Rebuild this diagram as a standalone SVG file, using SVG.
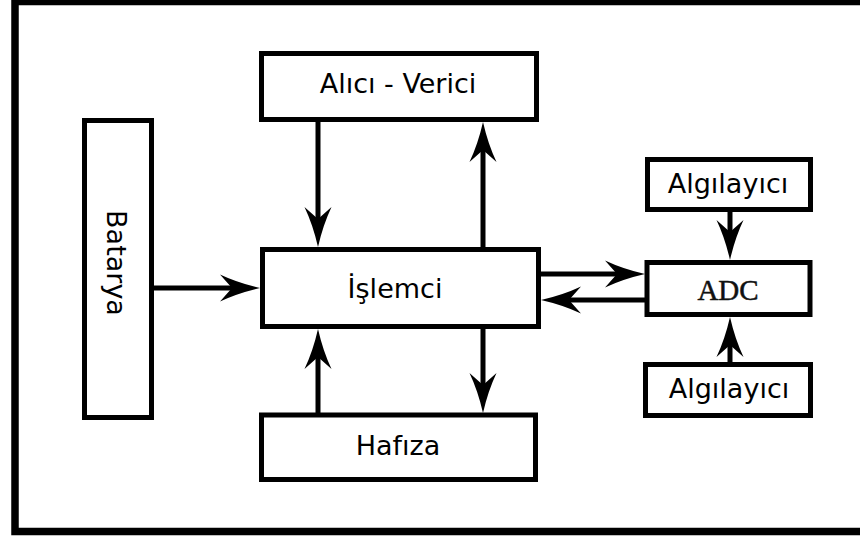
<svg xmlns="http://www.w3.org/2000/svg" width="860" height="537" viewBox="0 0 860 537">
<defs>
<style>
.box{fill:#fff;stroke:#000;stroke-width:5}
.lbl{font-family:"DejaVu Sans","Noto Sans",sans-serif;font-size:27px;fill:#000;text-anchor:middle}
.serif{font-family:"Liberation Serif","DejaVu Serif",serif;font-size:29px;fill:#111;stroke:#111;stroke-width:0.5;text-anchor:middle}
.wire{fill:none;stroke:#000;stroke-width:5;marker-end:url(#ah)}
</style>
<marker id="ah" markerUnits="userSpaceOnUse" viewBox="-42 -15 44 30" markerWidth="44" markerHeight="30" refX="-25" refY="0" orient="auto">
<path d="M0,0 Q-22,-5 -40,-13.5 L-28,0 L-40,13.5 Q-22,5 0,0 Z" fill="#000"/>
</marker>
</defs>
<rect width="860" height="537" fill="#fff"/>
<rect x="15" y="1.5" width="860" height="530" fill="none" stroke="#000" stroke-width="7.5"/>

<g id="connectors">
<path class="wire" d="M151.5,288 H235"/>
<path class="wire" d="M318,119.5 V222"/>
<path class="wire" d="M483,249.5 V147"/>
<path class="wire" d="M318,415 V354"/>
<path class="wire" d="M483,326.5 V388"/>
<path class="wire" d="M538.5,274 H620"/>
<path class="wire" d="M647,300 H566"/>
<path class="wire" d="M730,209.5 V235"/>
<path class="wire" d="M730,364.5 V342"/>
</g>

<g id="batarya">
<rect class="box" x="84.5" y="120.5" width="67" height="297"/>
<text class="lbl" transform="translate(107,263) rotate(90)">Batarya</text>
</g>
<g id="alici-verici">
<rect class="box" x="261.5" y="53.5" width="275" height="66"/>
<text class="lbl" x="398" y="93">Alıcı - Verici</text>
</g>
<g id="islemci">
<rect class="box" x="262.5" y="249.5" width="276" height="77"/>
<text class="lbl" x="395" y="298">İşlemci</text>
</g>
<g id="hafiza">
<rect class="box" x="261.5" y="415" width="274" height="64.5"/>
<text class="lbl" x="398" y="455">Hafıza</text>
</g>
<g id="algilayici-1">
<rect class="box" x="647.5" y="159.5" width="163" height="50"/>
<text class="lbl" x="728" y="193">Algılayıcı</text>
</g>
<g id="adc">
<rect class="box" x="647" y="262.5" width="163" height="52"/>
<text class="serif" x="728" y="300">ADC</text>
</g>
<g id="algilayici-2">
<rect class="box" x="645.5" y="364.5" width="165" height="51"/>
<text class="lbl" x="729" y="398">Algılayıcı</text>
</g>
</svg>
